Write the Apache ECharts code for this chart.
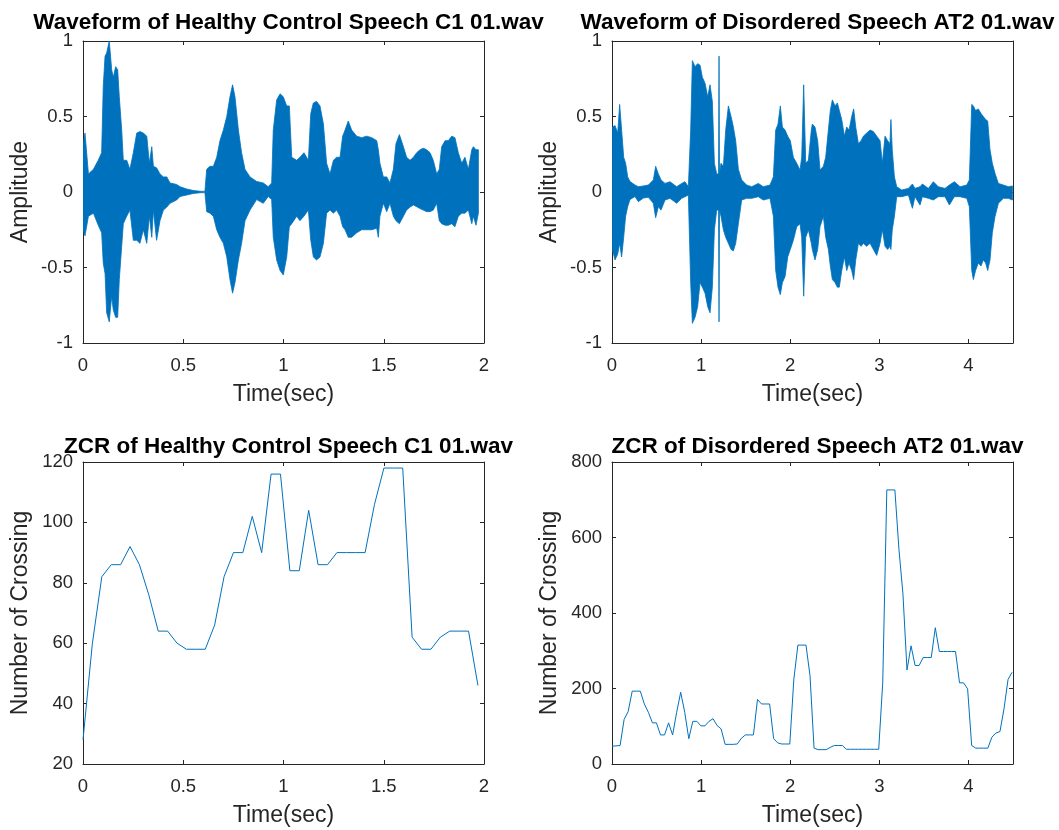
<!DOCTYPE html>
<html>
<head>
<meta charset="utf-8">
<script src="https://cdn.jsdelivr.net/npm/echarts@6/dist/echarts.min.js"></script>
<style>
  html, body { margin: 0; padding: 0; background: #fff; }
  #chart { width: 1059px; height: 830px; }
</style>
</head>
<body>
<div id="chart"></div>
<script>
// ---- Waveform envelopes (time in s, upper / lower amplitude) ----
const healthyWaveT = [0.000,0.010,0.027,0.052,0.076,0.093,0.101,0.110,0.118,0.131,0.143,0.151,0.163,0.173,0.181,0.193,0.201,0.218,0.234,0.251,0.268,0.284,0.301,0.318,0.331,0.343,0.351,0.367,0.384,0.401,0.418,0.434,0.467,0.484,0.517,0.550,0.584,0.608,0.617,0.633,0.650,0.667,0.683,0.700,0.717,0.733,0.746,0.758,0.775,0.791,0.808,0.833,0.866,0.899,0.924,0.941,0.949,0.966,0.983,0.999,1.016,1.029,1.041,1.066,1.082,1.102,1.124,1.136,1.149,1.165,1.182,1.199,1.215,1.232,1.249,1.265,1.282,1.295,1.307,1.323,1.340,1.365,1.390,1.415,1.440,1.465,1.473,1.481,1.498,1.515,1.531,1.548,1.561,1.578,1.598,1.614,1.631,1.648,1.664,1.681,1.697,1.714,1.731,1.747,1.764,1.777,1.789,1.806,1.822,1.839,1.855,1.872,1.889,1.905,1.922,1.939,1.947,1.960,1.972];
const healthyWaveUpper = [0.30,0.39,0.12,0.15,0.21,0.26,0.70,0.90,0.92,1.00,0.81,0.76,0.83,0.81,0.63,0.41,0.21,0.21,0.15,0.26,0.39,0.40,0.39,0.37,0.19,0.30,0.17,0.16,0.12,0.10,0.10,0.06,0.05,0.035,0.02,0.01,0.005,0.004,0.15,0.17,0.17,0.23,0.34,0.41,0.50,0.63,0.71,0.63,0.41,0.26,0.15,0.10,0.07,0.06,0.035,0.06,0.41,0.61,0.65,0.63,0.57,0.57,0.23,0.21,0.23,0.26,0.21,0.52,0.59,0.60,0.57,0.45,0.19,0.12,0.21,0.23,0.23,0.37,0.41,0.47,0.41,0.37,0.36,0.37,0.36,0.34,0.28,0.19,0.10,0.10,0.06,0.15,0.32,0.38,0.30,0.23,0.21,0.23,0.26,0.28,0.29,0.28,0.26,0.21,0.12,0.15,0.30,0.34,0.34,0.37,0.36,0.26,0.19,0.23,0.15,0.28,0.30,0.28,0.28];
const healthyWaveLower = [-0.25,-0.29,-0.16,-0.14,-0.22,-0.27,-0.47,-0.54,-0.80,-0.86,-0.69,-0.78,-0.83,-0.83,-0.58,-0.36,-0.21,-0.16,-0.12,-0.32,-0.32,-0.34,-0.25,-0.34,-0.16,-0.30,-0.12,-0.32,-0.19,-0.12,-0.10,-0.075,-0.053,-0.03,-0.02,-0.01,-0.005,-0.004,-0.13,-0.14,-0.16,-0.25,-0.30,-0.34,-0.43,-0.58,-0.67,-0.60,-0.45,-0.34,-0.19,-0.12,-0.05,-0.075,-0.03,-0.05,-0.30,-0.45,-0.52,-0.55,-0.43,-0.23,-0.21,-0.16,-0.19,-0.16,-0.12,-0.32,-0.43,-0.45,-0.43,-0.34,-0.14,-0.12,-0.14,-0.12,-0.16,-0.23,-0.25,-0.30,-0.30,-0.27,-0.25,-0.25,-0.25,-0.24,-0.30,-0.16,-0.075,-0.13,-0.075,-0.16,-0.19,-0.21,-0.16,-0.12,-0.10,-0.086,-0.097,-0.11,-0.12,-0.13,-0.13,-0.12,-0.075,-0.19,-0.21,-0.22,-0.22,-0.21,-0.23,-0.16,-0.14,-0.14,-0.12,-0.21,-0.16,-0.22,-0.14];

const disorderedWaveT = [0.004,0.034,0.064,0.086,0.108,0.131,0.153,0.176,0.202,0.258,0.296,0.352,0.408,0.464,0.490,0.520,0.550,0.595,0.651,0.726,0.782,0.819,0.857,0.883,0.902,0.932,0.961,0.988,1.014,1.044,1.074,1.100,1.126,1.149,1.175,1.196,1.201,1.206,1.223,1.250,1.276,1.306,1.336,1.362,1.388,1.418,1.455,1.511,1.568,1.642,1.698,1.773,1.811,1.837,1.863,1.889,1.912,1.942,1.972,2.001,2.035,2.073,2.110,2.129,2.151,2.174,2.204,2.237,2.248,2.278,2.308,2.334,2.372,2.398,2.428,2.450,2.473,2.503,2.529,2.551,2.578,2.608,2.634,2.660,2.690,2.712,2.735,2.765,2.795,2.821,2.858,2.896,2.933,2.971,3.008,3.034,3.064,3.093,3.119,3.130,3.145,3.169,3.195,3.251,3.326,3.371,3.400,3.457,3.483,3.550,3.606,3.662,3.737,3.786,3.842,3.906,3.981,4.010,4.037,4.055,4.080,4.111,4.141,4.167,4.193,4.216,4.242,4.268,4.298,4.336,4.392,4.448,4.493];
const disorderedWaveUpper = [0.43,0.44,0.39,0.58,0.41,0.23,0.19,0.10,0.07,0.046,0.035,0.04,0.046,0.08,0.17,0.12,0.08,0.057,0.068,0.035,0.057,0.068,0.035,0.41,0.87,0.83,0.85,0.84,0.76,0.72,0.63,0.71,0.60,0.19,0.12,0.12,0.90,0.12,0.19,0.17,0.41,0.57,0.50,0.43,0.34,0.15,0.08,0.046,0.035,0.057,0.035,0.046,0.10,0.41,0.45,0.57,0.43,0.41,0.37,0.34,0.23,0.19,0.146,0.23,0.71,0.19,0.21,0.41,0.45,0.43,0.34,0.146,0.17,0.23,0.41,0.54,0.61,0.57,0.59,0.54,0.48,0.37,0.43,0.41,0.50,0.55,0.43,0.32,0.34,0.37,0.39,0.41,0.40,0.37,0.34,0.19,0.37,0.34,0.32,0.48,0.28,0.10,0.035,0.013,0.024,0.053,0.024,0.035,0.053,0.024,0.068,0.035,0.024,0.046,0.068,0.035,0.046,0.08,0.58,0.57,0.54,0.55,0.52,0.50,0.48,0.47,0.28,0.19,0.124,0.057,0.046,0.035,0.04];
const disorderedWaveLower = [-0.38,-0.45,-0.41,-0.34,-0.43,-0.30,-0.16,-0.097,-0.05,-0.03,-0.064,-0.04,-0.035,-0.075,-0.17,-0.097,-0.12,-0.053,-0.042,-0.075,-0.042,-0.031,-0.02,-0.60,-0.87,-0.83,-0.76,-0.60,-0.63,-0.67,-0.76,-0.80,-0.63,-0.25,-0.12,-0.12,-0.86,-0.12,-0.16,-0.25,-0.30,-0.34,-0.38,-0.39,-0.34,-0.21,-0.053,-0.042,-0.042,-0.031,-0.053,-0.042,-0.16,-0.52,-0.63,-0.68,-0.60,-0.56,-0.43,-0.38,-0.32,-0.23,-0.21,-0.30,-0.69,-0.30,-0.25,-0.34,-0.38,-0.45,-0.38,-0.23,-0.16,-0.30,-0.38,-0.49,-0.58,-0.60,-0.63,-0.63,-0.52,-0.43,-0.52,-0.47,-0.52,-0.58,-0.45,-0.34,-0.36,-0.34,-0.36,-0.34,-0.38,-0.42,-0.34,-0.25,-0.36,-0.38,-0.36,-0.38,-0.25,-0.16,-0.031,-0.031,-0.02,-0.108,-0.031,-0.086,-0.031,-0.042,-0.053,-0.031,-0.031,-0.086,-0.031,-0.031,-0.042,-0.097,-0.52,-0.58,-0.52,-0.47,-0.49,-0.45,-0.47,-0.52,-0.45,-0.27,-0.163,-0.075,-0.042,-0.042,-0.053];

// ---- Zero-crossing counts per frame ----
const healthyZcrHop = 0.0469;     // frame hop (s)
const healthyZcr = [28,60,82,86,86,92,86,76,64,64,60,58,58,58,66,82,90,90,102,90,116,116,84,84,104,86,86,90,90,90,90,106,118,118,118,62,58,58,62,64,64,64,46];
const disorderedZcrHop = 0.04535; // frame hop (s)
const disorderedZcr = [47,48,49,118,139,193,193,193,159,137,109,109,77,77,109,77,137,190,137,67,113,113,101,101,113,120,102,93,52,52,52,53,68,77,77,77,171,159,159,159,67,56,53,53,53,225,315,315,315,234,42,38,38,38,44,49,49,49,39,39,39,39,39,39,39,39,39,217,726,726,726,569,450,249,313,261,261,282,282,282,361,298,298,298,298,298,215,215,199,49,42,42,42,42,71,82,86,146,224,243];

// ---- Titles and axis labels ----
const panelTitles = [
  'Waveform of Healthy Control Speech C1 01.wav',
  'Waveform of Disordered Speech AT2 01.wav',
  'ZCR of Healthy Control Speech C1 01.wav',
  'ZCR of Disordered Speech AT2 01.wav'
];
const xAxisName = 'Time(sec)';
const yAxisNames = ['Amplitude', 'Amplitude', 'Number of Crossing', 'Number of Crossing'];
const xRanges = [[0, 2, 0.5], [0, 4.5, 1], [0, 2, 0.5], [0, 4.5, 1]];
const yRanges = [[-1, 1, 0.5], [-1, 1, 0.5], [20, 120, 20], [0, 800, 200]];

const LINE = '#0072BD';
const AXIS = '#262626';
const FONT = '"Liberation Sans", Arial, Helvetica, sans-serif';

const grids = [
  { left: 83,  top: 41,  width: 401, height: 302 },
  { left: 612, top: 41,  width: 401, height: 302 },
  { left: 83,  top: 462, width: 401, height: 302 },
  { left: 612, top: 462, width: 401, height: 302 }
];

const xAxes = [], yAxes = [];
for (let side = 0; side < 2; side++) {
  for (let i = 0; i < 4; i++) {
    const main = side === 0;
    xAxes.push({
      type: 'value', gridIndex: i, position: main ? 'bottom' : 'top',
      min: xRanges[i][0], max: xRanges[i][1], interval: xRanges[i][2],
      name: main ? xAxisName : '', nameLocation: 'middle', nameGap: 40,
      nameTextStyle: { color: AXIS, fontSize: 23, fontFamily: FONT },
      axisLine: { show: true, onZero: false, lineStyle: { color: AXIS, width: 1 } },
      axisTick: { show: true, inside: true, length: 4, lineStyle: { color: AXIS } },
      axisLabel: { show: main, margin: 13, color: AXIS, fontSize: 18.5, fontFamily: FONT,
                   showMaxLabel: xRanges[i][1] % xRanges[i][2] === 0 },
      splitLine: { show: false }
    });
    yAxes.push({
      type: 'value', gridIndex: i, position: main ? 'left' : 'right',
      min: yRanges[i][0], max: yRanges[i][1], interval: yRanges[i][2],
      name: main ? yAxisNames[i] : '', nameLocation: 'middle', nameGap: 51,
      nameTextStyle: { color: AXIS, fontSize: 23, fontFamily: FONT },
      axisLine: { show: true, onZero: false, lineStyle: { color: AXIS, width: 1 } },
      axisTick: { show: true, inside: true, length: 4, lineStyle: { color: AXIS } },
      axisLabel: { show: main, margin: 10, color: AXIS, fontSize: 18.5, fontFamily: FONT },
      splitLine: { show: false }
    });
  }
}

const titleCenters = [[283.5, 6], [812.5, 6], [283.5, 430], [812.5, 430]];
const titles = panelTitles.map((text, i) => ({
  text, left: titleCenters[i][0], top: titleCenters[i][1], textAlign: 'center',
  textStyle: { color: '#000', fontSize: 22.5, fontWeight: 'bold', fontFamily: FONT }
}));

// Waveform drawn as one filled band between the upper and lower envelope.
// The outline is built once (on the first item) from the envelope samples.
function waveBand(idx, t, upper, lower) {
  return {
    type: 'custom', xAxisIndex: idx, yAxisIndex: idx, silent: true, clip: true,
    encode: { x: 0, y: [1, 2] },
    data: t.map((x, k) => [x, upper[k], lower[k]]),
    renderItem: function (params, api) {
      if (params.dataIndex !== 0) return null;
      const top = t.map((x, k) => api.coord([x, upper[k]]));
      const bottom = t.map((x, k) => api.coord([x, lower[k]])).reverse();
      return {
        type: 'polygon',
        shape: { points: top.concat(bottom) },
        style: { fill: LINE, stroke: LINE, lineWidth: 0.8, lineJoin: 'miter' }
      };
    }
  };
}

function zcrLine(idx, hop, values) {
  return {
    type: 'line', xAxisIndex: idx, yAxisIndex: idx, symbol: 'none', silent: true, clip: true,
    data: values.map((v, k) => [k * hop, v]),
    lineStyle: { color: LINE, width: 1 }
  };
}

const series = [
  waveBand(0, healthyWaveT, healthyWaveUpper, healthyWaveLower),
  waveBand(1, disorderedWaveT, disorderedWaveUpper, disorderedWaveLower),
  zcrLine(2, healthyZcrHop, healthyZcr),
  zcrLine(3, disorderedZcrHop, disorderedZcr)
];

const chart = echarts.init(document.getElementById('chart'), null, { renderer: 'canvas' });
chart.setOption({
  animation: false,
  backgroundColor: '#fff',
  title: titles,
  grid: grids,
  xAxis: xAxes,
  yAxis: yAxes,
  series
});
</script>
</body>
</html>
